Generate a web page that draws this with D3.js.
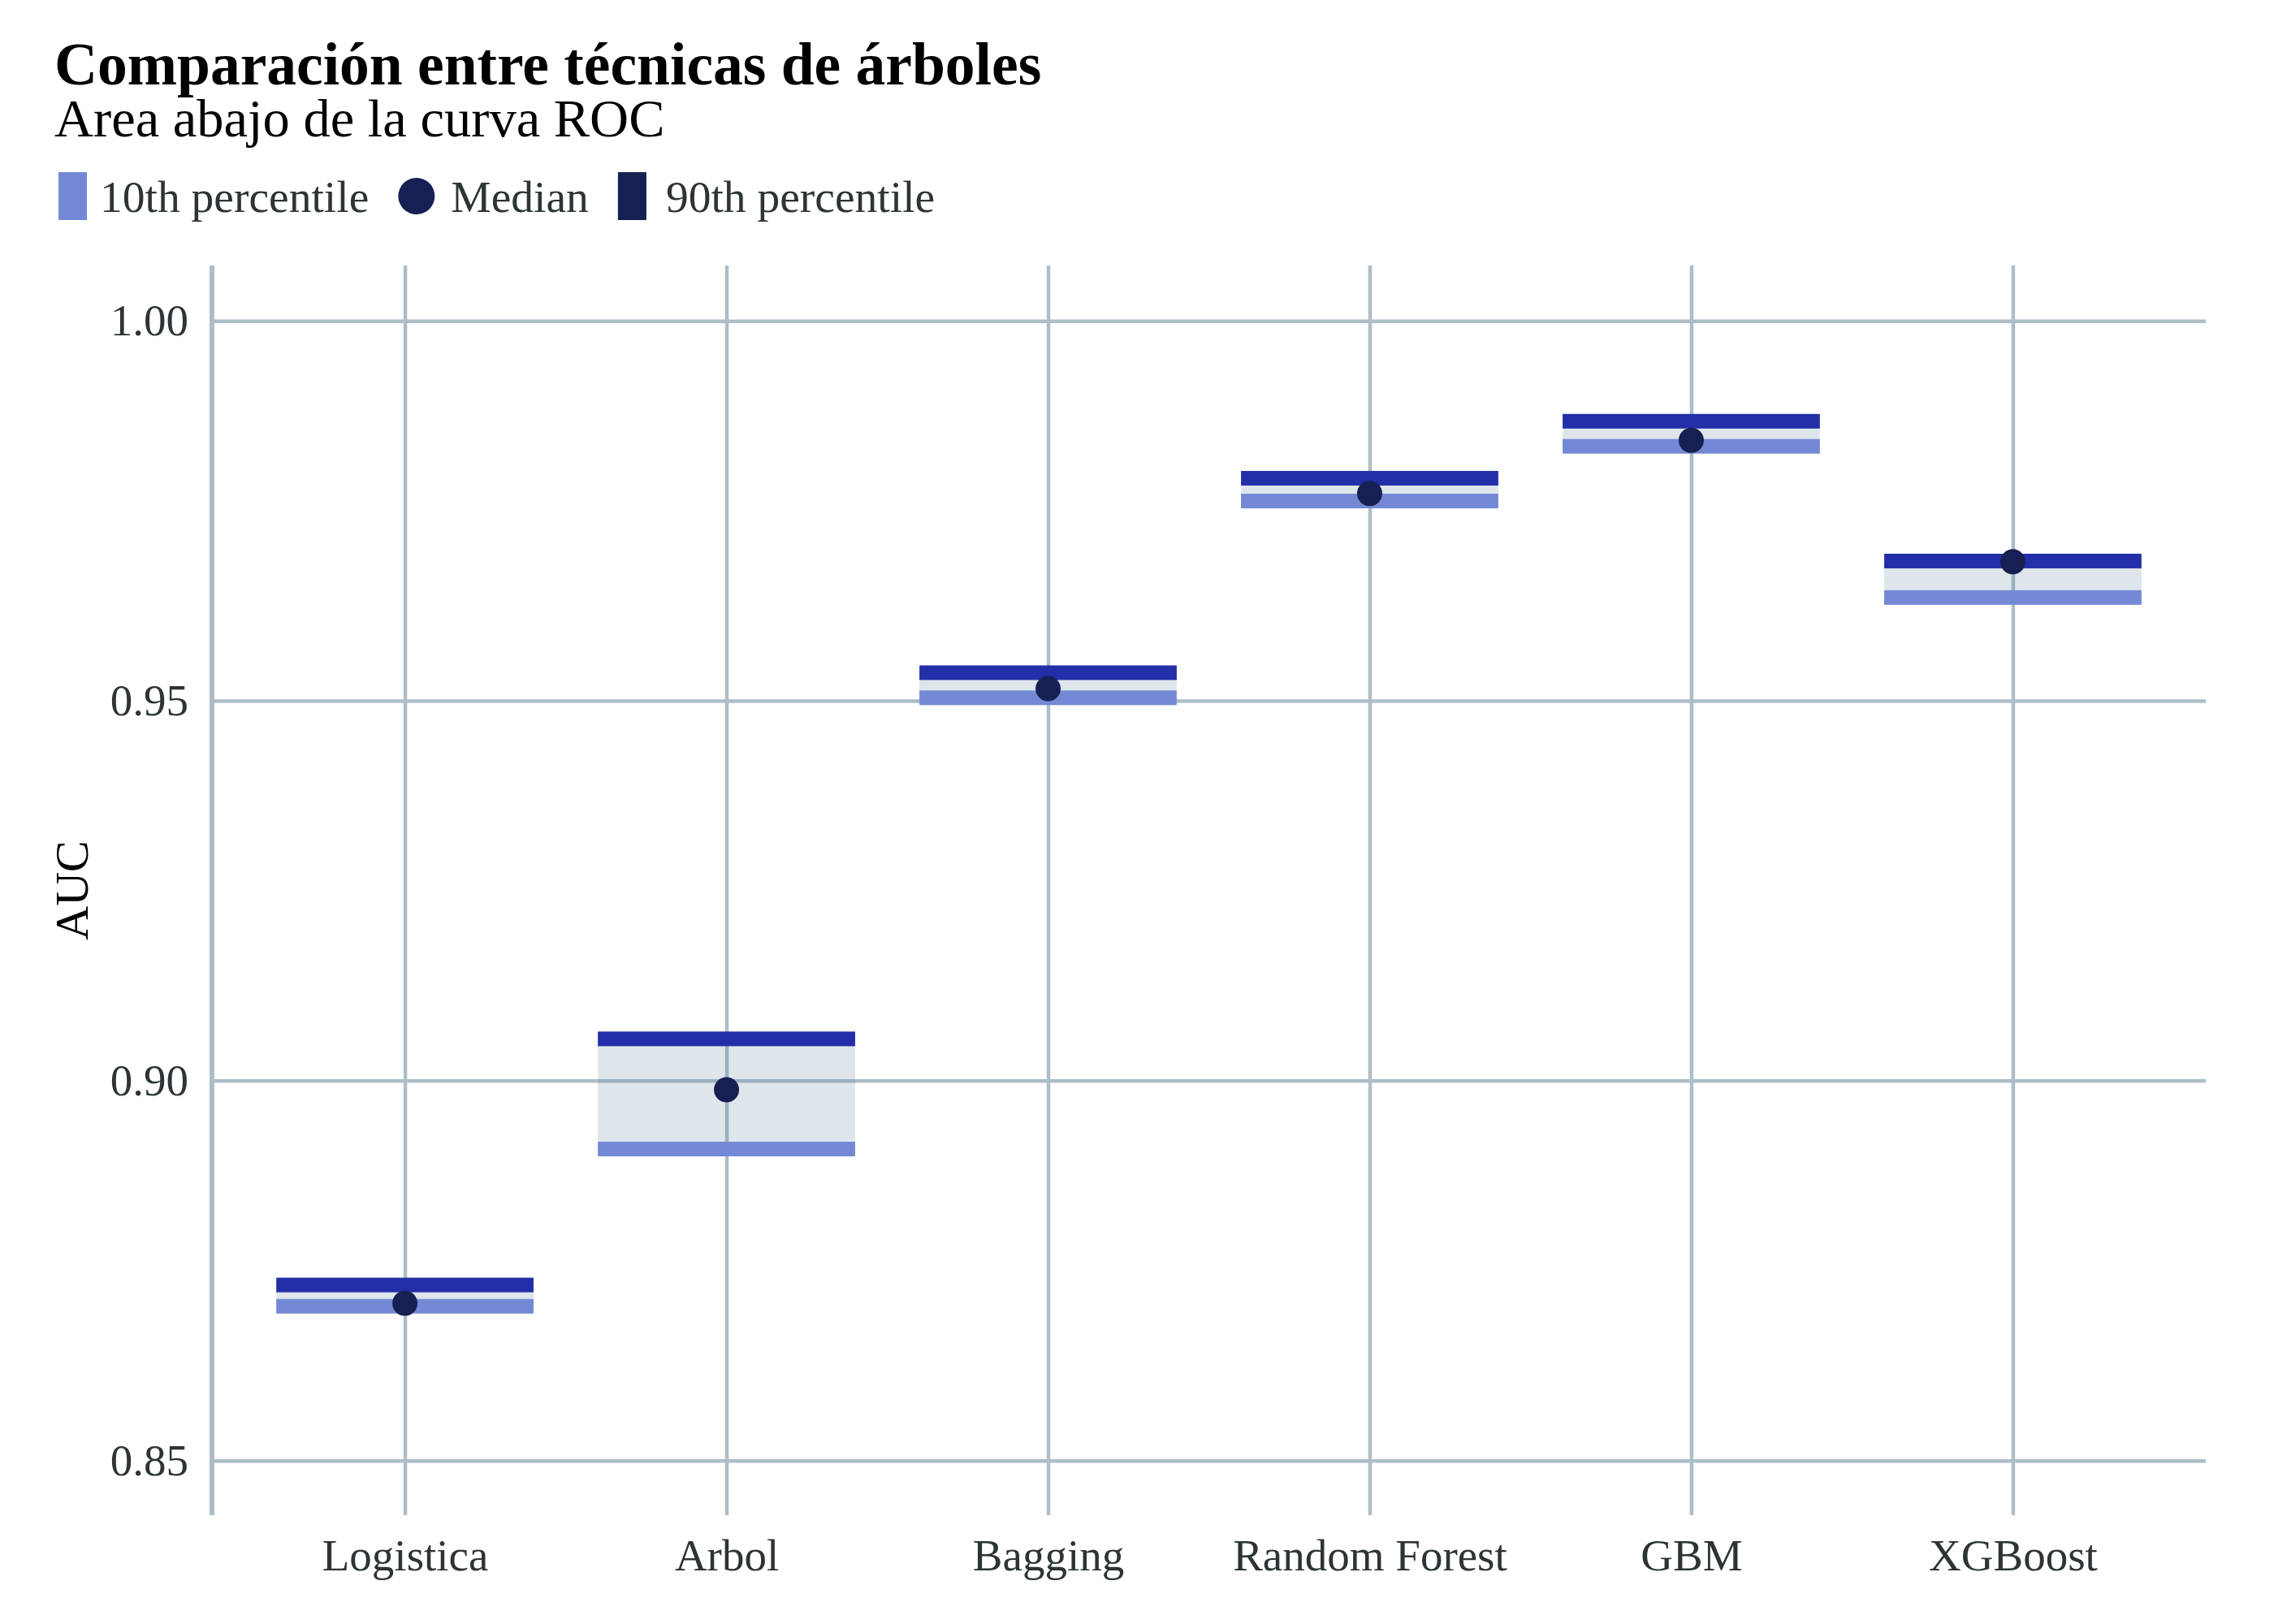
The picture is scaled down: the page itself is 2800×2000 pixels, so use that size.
<!DOCTYPE html>
<html>
<head>
<meta charset="utf-8">
<script src="https://cdn.jsdelivr.net/npm/d3@7"></script>
<style>
  body { margin: 0; background: white; }
  text { font-family: "Liberation Serif", "Times New Roman", serif; }
</style>
</head>
<body>
<script>
// data
var models = ["Logistica", "Arbol", "Bagging", "Random Forest", "GBM", "XGBoost"];
var p10 = [0.8703, 0.8910, 0.9504, 0.9763, 0.9835, 0.9636];
var median = [0.8707, 0.8988, 0.9516, 0.9773, 0.9843, 0.9683];
var p90 = [0.8731, 0.9055, 0.9537, 0.9793, 0.9868, 0.9684];
var yTicks = [0.85, 0.90, 0.95, 1.00];
var legendLabels = ["10th percentile", "Median", "90th percentile"];

var col_p10 = "#7489d5";
var col_p90 = "#232ea8";
var col_med = "#172052";
var col_grid = "#adbec8";
var col_text = "#2d3436";

var width = 2800, height = 2000;
var plotLeft = 261, plotRight = 2716, plotTop = 327, plotBottom = 1866;

var svg = d3.select("body").append("svg")
    .attr("width", width)
    .attr("height", height);

var x = d3.scalePoint().domain(models).range([plotLeft, plotRight]).padding(0.6);
var y = d3.scaleLinear().domain([0.8428, 1.0073]).range([plotBottom, plotTop]);

// gridlines
svg.append("g")
    .attr("transform", "translate(" + plotLeft + ",0)")
    .call(d3.axisLeft(y).tickValues(yTicks).tickSize(-(plotRight - plotLeft)).tickFormat(""))
    .call(g => g.select(".domain").remove())
    .call(g => g.selectAll("line").attr("stroke", col_grid).attr("stroke-width", 4.5));

svg.append("g")
    .attr("transform", "translate(0," + plotBottom + ")")
    .call(d3.axisBottom(x).tickSize(-(plotBottom - plotTop)).tickFormat(""))
    .call(g => g.select(".domain").remove())
    .call(g => g.selectAll("line").attr("stroke", col_grid).attr("stroke-width", 4.5));

// left axis line
svg.append("line")
    .attr("x1", plotLeft).attr("x2", plotLeft)
    .attr("y1", plotTop).attr("y2", plotBottom)
    .attr("stroke", col_grid).attr("stroke-width", 6);

// tick labels
svg.append("g")
    .attr("transform", "translate(" + plotLeft + ",0)")
    .call(d3.axisLeft(y).tickValues(yTicks).tickSize(0).tickPadding(29).tickFormat(d3.format(".2f")))
    .call(g => g.select(".domain").remove())
    .call(g => g.selectAll("text")
        .style("font-family", "Liberation Serif")
        .attr("font-size", 55).attr("fill", col_text));

svg.append("g")
    .attr("transform", "translate(0," + plotBottom + ")")
    .call(d3.axisBottom(x).tickSize(0).tickPadding(29))
    .call(g => g.select(".domain").remove())
    .call(g => g.selectAll("text")
        .style("font-family", "Liberation Serif")
        .attr("font-size", 55).attr("fill", col_text));

// axis title
svg.append("text")
    .attr("transform", "translate(108," + ((plotTop + plotBottom) / 2) + ") rotate(-90)")
    .attr("text-anchor", "middle")
    .attr("font-size", 58)
    .attr("fill", "black")
    .text("AUC");

// marks
var rows = models.map((m, i) => ({model: m, p10: p10[i], med: median[i], p90: p90[i]}));
var bw = x.step() * 0.8;
var bh = 18;

svg.selectAll("rect.range")
    .data(rows).enter().append("rect")
    .attr("class", "range")
    .attr("x", d => x(d.model) - bw / 2)
    .attr("width", bw)
    .attr("y", d => y(d.p90))
    .attr("height", d => y(d.p10) - y(d.p90))
    .attr("fill", "#46738f")
    .attr("fill-opacity", 0.18);

svg.selectAll("rect.p10")
    .data(rows).enter().append("rect")
    .attr("class", "p10")
    .attr("x", d => x(d.model) - bw / 2)
    .attr("width", bw)
    .attr("y", d => y(d.p10) - bh / 2)
    .attr("height", bh)
    .attr("fill", col_p10);

svg.selectAll("rect.p90")
    .data(rows).enter().append("rect")
    .attr("class", "p90")
    .attr("x", d => x(d.model) - bw / 2)
    .attr("width", bw)
    .attr("y", d => y(d.p90) - bh / 2)
    .attr("height", bh)
    .attr("fill", col_p90);

svg.selectAll("circle.med")
    .data(rows).enter().append("circle")
    .attr("class", "med")
    .attr("cx", d => x(d.model))
    .attr("cy", d => y(d.med))
    .attr("r", 15.5)
    .attr("fill", col_med);

// title, subtitle
svg.append("text")
    .attr("x", 67).attr("y", 104)
    .attr("font-size", 73.5)
    .attr("font-weight", "bold")
    .attr("fill", "black")
    .text("Comparación entre técnicas de árboles");

svg.append("text")
    .attr("x", 67).attr("y", 168)
    .attr("font-size", 66.5)
    .attr("fill", "black")
    .text("Area abajo de la curva ROC");

// legend
var lg = svg.append("g");
var lx = 72, ly = 212, lh = 59;
legendLabels.forEach((lab, i) => {
    if (i == 1) {
        lg.append("circle")
            .attr("cx", lx + 22.5).attr("cy", ly + lh / 2)
            .attr("r", 22.5).attr("fill", col_med);
        lx += 45 + 20;
    } else {
        lg.append("rect")
            .attr("x", lx).attr("y", ly)
            .attr("width", 35).attr("height", lh)
            .attr("fill", i == 0 ? col_p10 : col_med);
        lx += 35 + (i == 0 ? 16 : 24);
    }
    var t = lg.append("text")
        .attr("x", lx).attr("y", 261)
        .attr("font-size", 55.5)
        .attr("fill", col_text)
        .text(lab);
    lx += t.node().getComputedTextLength() + 36;
});
</script>
</body>
</html>
